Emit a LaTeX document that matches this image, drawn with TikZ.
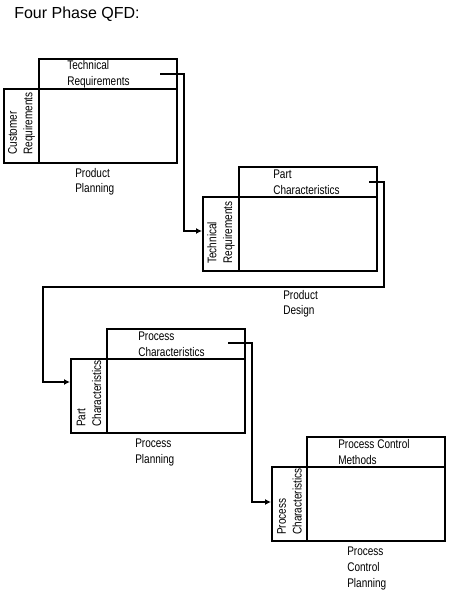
\documentclass[tikz,border=0pt]{standalone}
\usepackage{fontspec}
\setmainfont{Liberation Sans}
\newfontfamily\narrowfont[FakeStretch=0.8]{Liberation Sans}
\usetikzlibrary{arrows.meta}

\begin{document}
\begin{tikzpicture}[x=0.75pt,y=-0.75pt]
		\tikzstyle{BoxStyle}=[draw,line width=1.5pt,inner sep=0pt]
		\tikzstyle{HeadStyle}=[BoxStyle,minimum width=103.5pt,minimum height=22.5pt]
		\tikzstyle{MainStyle}=[BoxStyle,minimum width=130pt,minimum height=55.5pt]
		\tikzstyle{SideStyle}=[BoxStyle,minimum width=26.5pt,minimum height=55.5pt]
		\tikzstyle{LabelStyle}=[font=\narrowfont\fontsize{9.4}{11.7}\selectfont,align=left,inner sep=0pt]
		\tikzstyle{EdgeStyle}=[line width=1.5pt,-{Latex[length=4.5pt,width=4.5pt]}]
		\useasboundingbox (0,0) rectangle (457,598);

		\node[anchor=west,inner sep=0pt,font=\fontsize{12}{14}\selectfont] (title) at (14,14) {Four Phase QFD:};

		% product planning
		\node[MainStyle] (mainA) at (90.5,126) {};
		\node[HeadStyle] (headA) at (108,74) {};
		\node[SideStyle] (sideA) at (21.5,126) {};
		\node[LabelStyle,anchor=west] (headtextA) at (67,74) {Technical\\Requirements};
		\node[LabelStyle,anchor=west,rotate=90] (sidetextA) at (21.5,155) {Customer\\Requirements};
		\node[LabelStyle,anchor=north west] (phaseA) at (75,168) {Product\\Planning};

		% product design
		\node[MainStyle] (mainB) at (290,234) {};
		\node[HeadStyle] (headB) at (308,182) {};
		\node[SideStyle] (sideB) at (221,234) {};
		\node[LabelStyle,anchor=west] (headtextB) at (273,182) {Part\\Characteristics};
		\node[LabelStyle,anchor=west,rotate=90] (sidetextB) at (221,264) {Technical\\Requirements};
		\node[LabelStyle,anchor=north west] (phaseB) at (283,290) {Product\\Design};

		% process planning
		\node[MainStyle] (mainC) at (158,396) {};
		\node[HeadStyle] (headC) at (176,344) {};
		\node[SideStyle] (sideC) at (89,396) {};
		\node[LabelStyle,anchor=west] (headtextC) at (138,344) {Process\\Characteristics};
		\node[LabelStyle,anchor=west,rotate=90] (sidetextC) at (89,427) {Part\\Characteristics};
		\node[LabelStyle,anchor=north west] (phaseC) at (135,439) {Process\\Planning};

		% process control planning
		\node[MainStyle] (mainD) at (358.5,504) {};
		\node[HeadStyle] (headD) at (376,452) {};
		\node[SideStyle] (sideD) at (289.5,504) {};
		\node[LabelStyle,anchor=west] (headtextD) at (338,452) {Process Control\\Methods};
		\node[LabelStyle,anchor=west,rotate=90] (sidetextD) at (289.5,535) {Process\\Characteristics};
		\node[LabelStyle,anchor=north west] (phaseD) at (347,547) {Process\\Control\\Planning};

		% links
		\coordinate (outA) at (160,74);
		\coordinate (inB) at (202,231);
		\coordinate (outB) at (369,182);
		\coordinate (inC) at (70,382);
		\coordinate (outC) at (228,343);
		\coordinate (inD) at (271,502);
		\draw[EdgeStyle] (outA) -- ++(24,0) |- (inB);
		\draw[EdgeStyle] (outB) -- ++(15,0) -- ++(0,105) -- ++(-341,0) |- (inC);
		\draw[EdgeStyle] (outC) -- ++(24,0) |- (inD);
	\end{tikzpicture}
\end{document}
